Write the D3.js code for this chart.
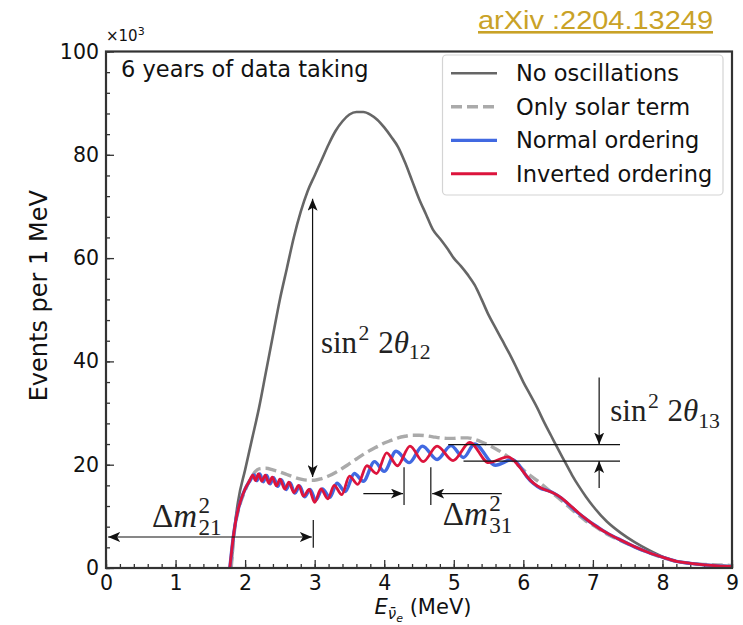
<!DOCTYPE html>
<html>
<head>
<meta charset="utf-8">
<script src="https://cdn.jsdelivr.net/npm/d3@7"></script>
<style>
  body { margin: 0; background: #fff; }
  svg { display: block; }
</style>
</head>
<body>
<div id="chart"></div>
<script>
// Energies in MeV, counts in 10^3 events per MeV

const noOscE = [1.8, 1.85, 1.9, 2.0, 2.1, 2.2, 2.3, 2.4, 2.5, 2.6, 2.7, 2.8, 2.9, 3.0, 3.1, 3.2, 3.3, 3.4, 3.5, 3.6, 3.7, 3.8, 3.9, 4.0,
  4.1, 4.2, 4.3, 4.4, 4.5, 4.6, 4.7, 4.8, 4.9, 5.0, 5.1, 5.2, 5.3, 5.4, 5.5, 5.6, 5.7, 5.8, 5.9, 6.0, 6.1, 6.2, 6.3, 6.4, 6.5,
  6.6, 6.7, 6.8, 6.9, 7.0, 7.2, 7.4, 7.6, 7.8, 8.0, 8.2, 8.4, 8.6, 8.8, 9.0];
const noOscN = [0, 8, 13, 19, 25, 31, 38, 45, 52, 58, 64, 69, 73, 76, 79, 82, 84.6, 86.5, 87.8, 88.3, 88.3, 87.8, 86.8, 85.3,
  83.5, 81.5, 78.5, 75, 71.5, 68.5, 65.5, 63.8, 62, 60, 58.5, 56.8, 54.8, 52, 49, 46.5, 44, 41.5, 38.8, 36, 33.5, 31, 28.2, 25.6, 23,
  20.5, 18, 15.8, 13.8, 12, 9, 6.8, 5, 3.5, 2.2, 1.3, 0.9, 0.6, 0.5, 0.4];

const solarE = [1.8, 1.85, 1.9, 2.0, 2.1, 2.2, 2.3, 2.4, 2.5, 2.6, 2.7, 2.8, 2.9, 3.0, 3.1, 3.2, 3.3, 3.4, 3.5, 3.6, 3.7, 3.8, 3.9, 4.0,
  4.1, 4.2, 4.3, 4.4, 4.5, 4.6, 4.7, 4.8, 4.9, 5.0, 5.1, 5.2, 5.3, 5.4, 5.5, 5.6, 5.7, 5.8, 5.9, 6.0, 6.1, 6.2, 6.3, 6.4, 6.5,
  6.6, 6.7, 6.8, 6.9, 7.0, 7.2, 7.4, 7.6, 7.8, 8.0, 8.2, 8.4, 8.6, 8.8, 9.0];
const solarN = [0, 7.5, 11, 15, 17.8, 19.2, 19.3, 19, 18.6, 18.1, 17.6, 17.2, 17, 17, 17.3, 17.8, 18.5, 19.3, 20.2, 21.1, 22, 22.8, 23.5, 24.2,
  24.7, 25.2, 25.5, 25.7, 25.7, 25.6, 25.4, 25.2, 25.1, 25.1, 25.2, 25.2, 24.9, 24.4, 23.8, 23.1, 22.3, 21.3, 20.2, 19, 17.9, 16.9, 15.8, 14.7, 13.6,
  12.5, 11.3, 10.2, 9.1, 8.3, 6.6, 5.3, 4.1, 3, 2, 1.3, 0.9, 0.7, 0.6, 0.5];

const normalE = [1.78, 1.8, 1.83, 1.87, 1.93, 2.0, 2.07, 2.13, 2.17, 2.21, 2.26, 2.31, 2.36, 2.41, 2.47, 2.52, 2.59, 2.645, 2.715,
  2.785, 2.855, 2.935, 3.015, 3.11, 3.22, 3.32, 3.44, 3.57, 3.70, 3.86, 4.0, 4.17, 4.36, 4.55, 4.76, 4.96, 5.14, 5.3, 5.6, 5.84,
  5.95, 6.05, 6.15, 6.25, 6.35, 6.45, 6.55, 6.65, 6.75, 6.85, 6.95, 7.05, 7.2, 7.4, 7.6, 7.8, 8.0, 8.2, 8.4, 8.6, 8.8, 9.0];
const normalN = [0, 2.5, 6, 9.5, 12.8, 15.3, 16.9, 18, 16.9, 18.2, 16.7, 17.9, 16.3, 17.5, 15.8, 17.1, 15.2, 16.5, 14.5,
  15.9, 13.8, 15.2, 13.1, 15.3, 13.7, 16.4, 14.8, 18.3, 16.8, 20.6, 18.7, 22.6, 20.4, 23.6, 21, 23.7, 21.4, 24, 19.9, 21,
  19.7, 17.7, 16.3, 15.4, 15, 14.4, 13.5, 12.3, 11.1, 10, 9, 8.1, 6.8, 5.4, 4.1, 3, 2.1, 1.3, 0.9, 0.6, 0.4, 0.3];

const invertedE = [1.78, 1.8, 1.83, 1.87, 1.93, 2.0, 2.06, 2.11, 2.15, 2.19, 2.24, 2.29, 2.34, 2.39, 2.45, 2.5, 2.57, 2.63, 2.7,
  2.77, 2.84, 2.92, 3.0, 3.09, 3.19, 3.28, 3.39, 3.5, 3.62, 3.75, 3.89, 4.035, 4.19, 4.37, 4.56, 4.76, 4.99, 5.23, 5.5, 5.78,
  5.9, 6.0, 6.1, 6.2, 6.3, 6.4, 6.5, 6.6, 6.7, 6.8, 6.9, 7.0, 7.1, 7.2, 7.4, 7.6, 7.8, 8.0, 8.2, 8.4, 8.6, 8.8, 9.0];
const invertedN = [0, 2.5, 6, 9.5, 12.8, 15.3, 16.8, 18, 16.9, 18.2, 16.8, 18, 16.4, 17.6, 15.9, 17.2, 15.3, 16.6, 14.6,
  16, 13.9, 15.2, 12.7, 15.3, 13.4, 16, 14.2, 17.8, 16.2, 19.8, 18.3, 22.3, 19.8, 23.6, 20.6, 23.6, 20.8, 24.3, 20.4, 21.5,
  20.3, 18.6, 17, 15.9, 15.2, 14.7, 14, 13, 11.8, 10.6, 9.5, 8.5, 7.6, 6.8, 5.4, 4.1, 3, 2.1, 1.3, 0.9, 0.6, 0.4, 0.3];

const xTicks = [0, 1, 2, 3, 4, 5, 6, 7, 8, 9];
const yTicks = [0, 20, 40, 60, 80, 100];
const legendLabels = ['No oscillations', 'Only solar term', 'Normal ordering', 'Inverted ordering'];
const seriesColors = ['#666666', '#aaaaaa', '#4169e1', '#dc143c'];

const W = 743, H = 625;
const svg = d3.select('#chart').append('svg').attr('width', W).attr('height', H);

const x = d3.scaleLinear().domain([0, 9]).range([106, 732]);
const y = d3.scaleLinear().domain([0, 100]).range([568, 51.5]);

// arrow head
const defs = svg.append('defs');
defs.append('marker')
  .attr('id', 'head')
  .attr('viewBox', '0 0 12 10')
  .attr('refX', 12).attr('refY', 5)
  .attr('markerWidth', 12).attr('markerHeight', 10)
  .attr('markerUnits', 'userSpaceOnUse')
  .attr('orient', 'auto-start-reverse')
  .append('path').attr('d', 'M0,0 L12,5 L0,10 L3,5 Z').attr('fill', '#111');

defs.append('clipPath').attr('id', 'plot')
  .append('rect').attr('x', x(0)).attr('y', y(100)).attr('width', x(9) - x(0)).attr('height', y(0) - y(100));

// ticks (inward)
const axisFont = 'DejaVu Sans, sans-serif';
const minorX = svg.append('g').attr('transform', `translate(0,${y(0)})`)
  .call(d3.axisBottom(x).tickValues(d3.range(0, 9.01, 0.2)).tickSize(-4).tickFormat(''));
const minorY = svg.append('g').attr('transform', `translate(${x(0)},0)`)
  .call(d3.axisLeft(y).tickValues(d3.range(0, 100.1, 4)).tickSize(-4).tickFormat(''));
const gx = svg.append('g').attr('transform', `translate(0,${y(0)})`)
  .call(d3.axisBottom(x).tickValues(xTicks).tickSize(-8).tickPadding(7));
const gy = svg.append('g').attr('transform', `translate(${x(0)},0)`)
  .call(d3.axisLeft(y).tickValues(yTicks).tickSize(-8).tickPadding(7));
[minorX, minorY, gx, gy].forEach(g => {
  g.select('.domain').remove();
  g.selectAll('line').attr('stroke', '#333').attr('stroke-width', 1.3);
  g.selectAll('text').attr('font-family', axisFont).attr('font-size', 20.5).attr('fill', '#111');
});

// curves
const line = d3.line().x(d => x(d[0])).y(d => y(d[1])).curve(d3.curveMonotoneX);
const curves = svg.append('g').attr('clip-path', 'url(#plot)');
const zip = (a, b) => a.map((v, i) => [v, b[i]]);

curves.append('path').datum(zip(noOscE, noOscN)).attr('d', line)
  .attr('fill', 'none').attr('stroke', seriesColors[0]).attr('stroke-width', 2.6);
curves.append('path').datum(zip(solarE, solarN)).attr('d', line)
  .attr('fill', 'none').attr('stroke', seriesColors[1]).attr('stroke-width', 3.4).attr('stroke-dasharray', '11,5');
curves.append('path').datum(zip(normalE, normalN)).attr('d', line)
  .attr('fill', 'none').attr('stroke', seriesColors[2]).attr('stroke-width', 3.4);
curves.append('path').datum(zip(invertedE, invertedN)).attr('d', line)
  .attr('fill', 'none').attr('stroke', seriesColors[3]).attr('stroke-width', 2.8);

// frame
svg.append('rect').attr('x', x(0)).attr('y', y(100)).attr('width', x(9) - x(0)).attr('height', y(0) - y(100))
  .attr('fill', 'none').attr('stroke', '#333').attr('stroke-width', 2.2);

// annotations (data coords)
const arrows = [
  { x1: 2.97, y1: 17.6, x2: 2.97, y2: 71.5, both: true },
  { x1: 0.03, y1: 6.0, x2: 2.96, y2: 6.0, both: true },
  { x1: 3.70, y1: 14.4, x2: 4.27, y2: 14.4 },
  { x1: 5.69, y1: 14.4, x2: 4.69, y2: 14.4 },
  { x1: 7.09, y1: 36.9, x2: 7.09, y2: 23.9 },
  { x1: 7.09, y1: 15.5, x2: 7.09, y2: 20.7 }
];
const guides = [
  { x1: 2.98, y1: 9.3, x2: 2.98, y2: 3.9 },
  { x1: 4.285, y1: 19.5, x2: 4.285, y2: 12.2 },
  { x1: 4.67, y1: 19.5, x2: 4.67, y2: 12.2 },
  { x1: 4.92, y1: 23.9, x2: 7.39, y2: 23.9 },
  { x1: 5.14, y1: 20.7, x2: 7.39, y2: 20.7 }
];
const ann = svg.append('g');
ann.selectAll('line.guide').data(guides).enter().append('line')
  .attr('x1', d => x(d.x1)).attr('y1', d => y(d.y1)).attr('x2', d => x(d.x2)).attr('y2', d => y(d.y2))
  .attr('stroke', '#111').attr('stroke-width', 1.2);
ann.selectAll('line.arrow').data(arrows).enter().append('line')
  .attr('x1', d => x(d.x1)).attr('y1', d => y(d.y1)).attr('x2', d => x(d.x2)).attr('y2', d => y(d.y2))
  .attr('stroke', '#111').attr('stroke-width', 1.2)
  .attr('marker-end', 'url(#head)')
  .attr('marker-start', d => d.both ? 'url(#head)' : null);

// math-like labels; sub/superscripts as separate texts placed after the measured base
const mathFont = 'Liberation Serif, serif';
function mathLabel(px, py, size, base, sup, sub, after) {
  const g = svg.append('g');
  const t = g.append('text').attr('x', px).attr('y', py)
    .attr('font-family', mathFont).attr('font-size', size).attr('fill', '#222');
  base.forEach(p => t.append('tspan').text(p.t).attr('font-style', p.italic ? 'italic' : 'normal'));
  let end = px + t.node().getComputedTextLength() + 1.5;
  const small = size * 0.7;
  const supT = g.append('text').attr('x', end).attr('y', py - size * 0.42)
    .attr('font-family', mathFont).attr('font-size', small).attr('fill', '#222').text(sup);
  let next = end + supT.node().getComputedTextLength();
  if (sub) {
    const subT = g.append('text').attr('x', end).attr('y', py + size * 0.24)
      .attr('font-family', mathFont).attr('font-size', small).attr('fill', '#222').text(sub);
    next = Math.max(next, end + subT.node().getComputedTextLength());
  }
  if (after) {
    const a = g.append('text').attr('x', next + size * 0.28).attr('y', py)
      .attr('font-family', mathFont).attr('font-size', size).attr('fill', '#222');
    after.forEach(p => a.append('tspan').text(p.t).attr('font-style', p.italic ? 'italic' : 'normal')
      .attr('font-size', p.small ? small : size).attr('dy', p.dy ? p.dy * size : 0));
  }
}
mathLabel(x(3.09), y(41.6), 31, [{ t: 'sin' }], '2', null,
  [{ t: '2' }, { t: 'θ', italic: true }, { t: '12', small: true, dy: 0.2 }]);
mathLabel(x(7.25), y(28.4), 31, [{ t: 'sin' }], '2', null,
  [{ t: '2' }, { t: 'θ', italic: true }, { t: '13', small: true, dy: 0.2 }]);
mathLabel(x(0.66), y(8.0), 33, [{ t: 'Δ' }, { t: 'm', italic: true }], '2', '21');
mathLabel(x(4.84), y(8.4), 33, [{ t: 'Δ' }, { t: 'm', italic: true }], '2', '31');

// texts
svg.append('text').attr('x', 121).attr('y', 77).attr('font-family', axisFont).attr('font-size', 22.5)
  .attr('fill', '#111').text('6 years of data taking');
const mult = svg.append('text').attr('x', 106).attr('y', 41).attr('font-family', axisFont).attr('font-size', 15).attr('fill', '#111');
mult.append('tspan').text('×10');
mult.append('tspan').text('3').attr('font-size', 11).attr('dy', -6);

svg.append('text').attr('transform', `translate(47,${(y(0) + y(100)) / 2 - 14}) rotate(-90)`)
  .attr('text-anchor', 'middle').attr('font-family', axisFont).attr('font-size', 24).attr('fill', '#111')
  .text('Events per 1 MeV');

const xl = svg.append('text').attr('x', (x(0) + x(9)) / 2 + 4).attr('y', 614).attr('text-anchor', 'middle')
  .attr('font-family', axisFont).attr('font-size', 21).attr('fill', '#111');
xl.append('tspan').text('E').attr('font-style', 'italic');
xl.append('tspan').text('ν\u0304').attr('font-style', 'italic').attr('font-size', 15).attr('dy', 5);
xl.append('tspan').text('e').attr('font-style', 'italic').attr('font-size', 11).attr('dy', 3);
xl.append('tspan').text('\u00a0(MeV)').attr('dy', -8);

// legend
const lg = svg.append('g');
lg.append('rect').attr('x', 442.5).attr('y', 55).attr('width', 280.5).attr('height', 140).attr('rx', 4)
  .attr('fill', '#fff').attr('stroke', '#d4d4d4').attr('stroke-width', 1.2);
const legendRows = lg.selectAll('g.row').data(legendLabels).enter().append('g')
  .attr('transform', (d, i) => `translate(0,${73.3 + i * 33.5})`);
legendRows.append('line').attr('x1', 451).attr('x2', 497).attr('y1', 0).attr('y2', 0)
  .attr('stroke', (d, i) => seriesColors[i])
  .attr('stroke-width', (d, i) => [2.6, 3.4, 3.2, 3.0][i])
  .attr('stroke-dasharray', (d, i) => i === 1 ? '11,5' : null);
legendRows.append('text').attr('x', 516).attr('y', 8).attr('font-family', axisFont).attr('font-size', 22.5)
  .attr('fill', '#111').text(d => d);

// source link
svg.append('text').attr('x', 478).attr('y', 29).attr('font-family', 'Liberation Sans, sans-serif').attr('font-size', 26)
  .attr('textLength', 235).attr('lengthAdjust', 'spacingAndGlyphs')
  .attr('fill', '#c9a227').attr('text-decoration', 'underline').text('arXiv :2204.13249');
</script>
</body>
</html>
